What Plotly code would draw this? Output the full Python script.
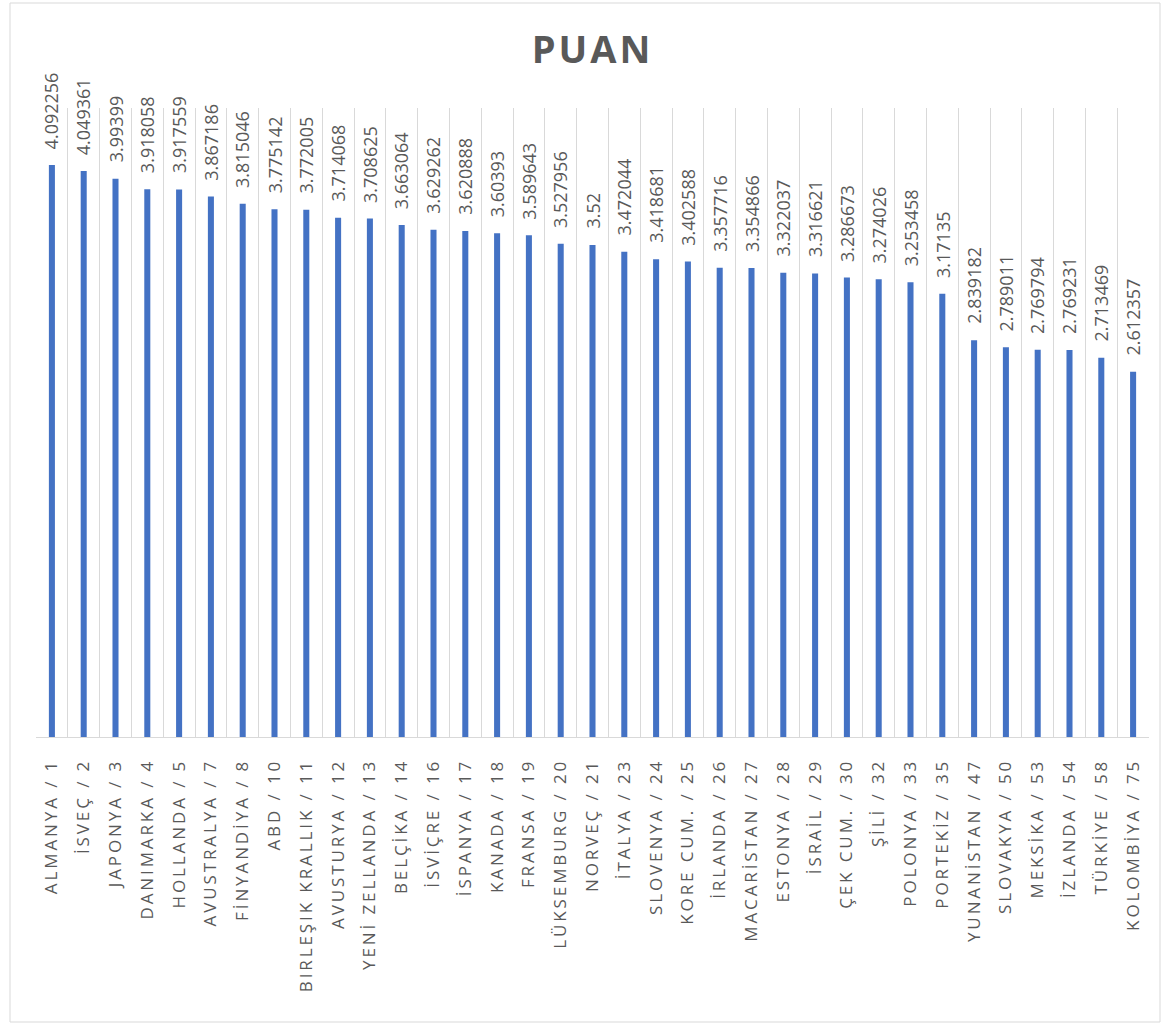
import plotly.graph_objects as go

countries = ["ALMANYA / 1", "İSVEÇ / 2", "JAPONYA / 3", "DANIMARKA / 4", "HOLLANDA / 5",
             "AVUSTRALYA / 7", "FİNYANDİYA / 8", "ABD / 10", "BIRLEŞIK KRALLIK / 11",
             "AVUSTURYA / 12", "YENİ ZELLANDA / 13", "BELÇİKA / 14", "İSVİÇRE / 16",
             "İSPANYA / 17", "KANADA / 18", "FRANSA / 19", "LÜKSEMBURG / 20", "NORVEÇ / 21",
             "İTALYA / 23", "SLOVENYA / 24", "KORE CUM. / 25", "İRLANDA / 26",
             "MACARİSTAN / 27", "ESTONYA / 28", "İSRAİL / 29", "ÇEK CUM. / 30", "ŞİLİ / 32",
             "POLONYA / 33", "PORTEKİZ / 35", "YUNANİSTAN / 47", "SLOVAKYA / 50",
             "MEKSİKA / 53", "İZLANDA / 54", "TÜRKİYE / 58", "KOLOMBİYA / 75"]
puan = [4.092256, 4.049361, 3.99399, 3.918058, 3.917559, 3.867186, 3.815046, 3.775142,
        3.772005, 3.714068, 3.708625, 3.663064, 3.629262, 3.620888, 3.60393, 3.589643,
        3.527956, 3.52, 3.472044, 3.418681, 3.402588, 3.357716, 3.354866, 3.322037,
        3.316621, 3.286673, 3.274026, 3.253458, 3.17135, 2.839182, 2.789011, 2.769794,
        2.769231, 2.713469, 2.612357]
labels = [str(v) for v in puan]

W, H = 1169, 1026
L, R, T, B = 36, 20, 108, 289
GREY = "#595959"

fig = go.Figure(go.Bar(
    x=countries, y=puan,
    marker=dict(color="#4472C4", line=dict(width=0)),
    cliponaxis=False, hoverinfo="x+y",
))

for c, v, t in zip(countries, puan, labels):
    fig.add_annotation(x=c, y=v, text=t, textangle=-90, showarrow=False,
                       xanchor="center", yanchor="bottom", yshift=14,
                       font=dict(family="Open Sans", size=18, color=GREY))

pw = W - L - R
ph = H - T - B
def px(x): return (x - L) / pw
def py(y): return (H - B - y) / ph

fig.update_layout(
    width=W, height=H,
    margin=dict(l=L, r=R, t=T, b=B, autoexpand=False),
    paper_bgcolor="white", plot_bgcolor="white",
    bargap=0.81,
    showlegend=False,
    title=dict(text="<b>PUAN</b>", x=0.5, xref="paper", xanchor="center",
               y=1 - 50 / H, yanchor="middle",
               font=dict(family="Open Sans", size=38, color=GREY)),
    xaxis=dict(type="category", tickson="boundaries", showgrid=True, gridcolor="#d9d9d9",
               gridwidth=1, showline=True, linecolor="#d9d9d9", linewidth=1,
               ticks="", tickangle=-90, ticklabelstandoff=14,
               tickfont=dict(family="Open Sans", size=17, color=GREY)),
    yaxis=dict(range=[0, 4.5], showgrid=False, zeroline=False, showticklabels=False,
               showline=False),
    shapes=[dict(type="rect", xref="paper", yref="paper",
                 x0=px(10), x1=px(1160), y0=py(1022), y1=py(3),
                 line=dict(color="#d9d9d9", width=1), fillcolor="rgba(0,0,0,0)")],
)

post = (
    "document.body.style.margin='0';"
    "var s=document.createElement('style');"
    "s.innerHTML='.xtick text{letter-spacing:2.9px}.gtitle{letter-spacing:3px}';"
    "document.head.appendChild(s);"
)

fig.write_html("out.html", post_script=post, config={"displayModeBar": False})
